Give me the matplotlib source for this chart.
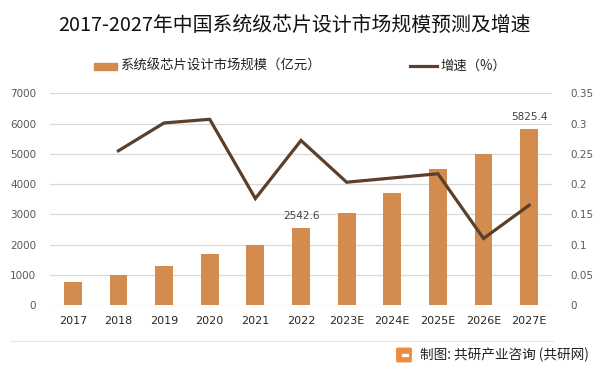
import matplotlib
matplotlib.use("Agg")
import matplotlib.pyplot as plt
from matplotlib.patches import Rectangle, FancyBboxPatch
from matplotlib.lines import Line2D
import numpy as np

plt.rcParams['font.family'] = ['Noto Sans CJK SC', 'DejaVu Sans']

years = ['2017', '2018', '2019', '2020', '2021', '2022', '2023E', '2024E', '2025E', '2026E', '2027E']
market_size = [770, 1000, 1300, 1700, 2000, 2542.6, 3050, 3710, 4500, 5000, 5825.4]
growth = [None, 0.255, 0.301, 0.307, 0.176, 0.272, 0.203, 0.210, 0.217, 0.110, 0.165]
labeled = {'2022': '2542.6', '2027E': '5825.4'}

bar_color = '#d48b4e'
line_color = '#5c3f2b'
grid_color = '#d9d9d9'

fig = plt.figure(figsize=(6, 3.73), dpi=100)
ax = fig.add_axes([50/600, 1-305/373, 502/600, (305-93.3)/373])
ax2 = ax.twinx()

x = np.arange(len(years))
ax.bar(x, market_size, width=0.39, color=bar_color, zorder=2)
gx = [i for i, g in enumerate(growth) if g is not None]
gy = [g for g in growth if g is not None]
ax2.plot(gx, gy, color=line_color, lw=2.3, solid_joinstyle='miter', zorder=3)

ax.set_xlim(-0.5, len(years)-0.5)
ax.set_ylim(0, 7000)
ax.set_yticks(np.arange(0, 7001, 1000))
ax2.set_ylim(0, 0.35)
ax2.set_yticks([0, 0.05, 0.1, 0.15, 0.2, 0.25, 0.3, 0.35])
ax2.set_yticklabels(['0', '0.05', '0.1', '0.15', '0.2', '0.25', '0.3', '0.35'])
ax.set_xticks(x)
ax.set_xticklabels(years)

ax.grid(axis='y', color=grid_color, lw=0.9, zorder=0)
ax.set_axisbelow(True)
for a in (ax, ax2):
    for s in a.spines.values():
        s.set_visible(False)
    a.tick_params(length=0)
ax.tick_params(axis='y', labelsize=7.5, labelcolor='#595959', pad=10)
ax.tick_params(axis='x', labelsize=8, labelcolor='#262626', pad=8)
ax2.tick_params(axis='y', labelsize=7.5, labelcolor='#595959', pad=13)
for lab in ax.get_yticklabels() + ax2.get_yticklabels() + ax.get_xticklabels():
    lab.set_fontfamily(['DejaVu Sans'])

for i, y in enumerate(years):
    if y in labeled:
        ax.annotate(labeled[y], (i, market_size[i]), xytext=(0, 5), textcoords='offset points',
                    ha='center', va='bottom', fontsize=7.5, color='#404040', family=['DejaVu Sans'])

fig.text(0.49, 1-25/373, '2017-2027年中国系统级芯片设计市场规模预测及增速', ha='center', va='center',
         fontsize=14.3, color='#111111')

# legend
fig.patches.append(Rectangle((94/600, 1-70/373), 23/600, 7/373, transform=fig.transFigure,
                             color=bar_color, figure=fig))
fig.text(120/600, 1-66/373, '系统级芯片设计市场规模（亿元）', ha='left', va='center', fontsize=9.6, color='#222222')
fig.lines.append(Line2D([410/600, 437/600], [1-66/373, 1-66/373], transform=fig.transFigure,
                        color=line_color, lw=2.3, figure=fig))
fig.text(440/600, 1-66/373, '增速（%）', ha='left', va='center', fontsize=9.6, color='#222222')

# footer
fig.lines.append(Line2D([10/600, 553/600], [1-341/373, 1-341/373], transform=fig.transFigure,
                        color='#e6e6e6', lw=0.8, figure=fig))
fig.patches.append(FancyBboxPatch((398/600, 1-361/373), 12/600, 12/373, boxstyle='round,pad=0.002',
                                  transform=fig.transFigure, color='#f08a3c', figure=fig))
fig.patches.append(Rectangle((402/600, 1-356/373), 6/600, 2/373, transform=fig.transFigure,
                             color='white', figure=fig))
fig.text(420/600, 1-355/373, '制图: 共研产业咨询 (共研网)', ha='left', va='center', fontsize=9.8, color='#222222')

fig.savefig('out.png', dpi=100)
